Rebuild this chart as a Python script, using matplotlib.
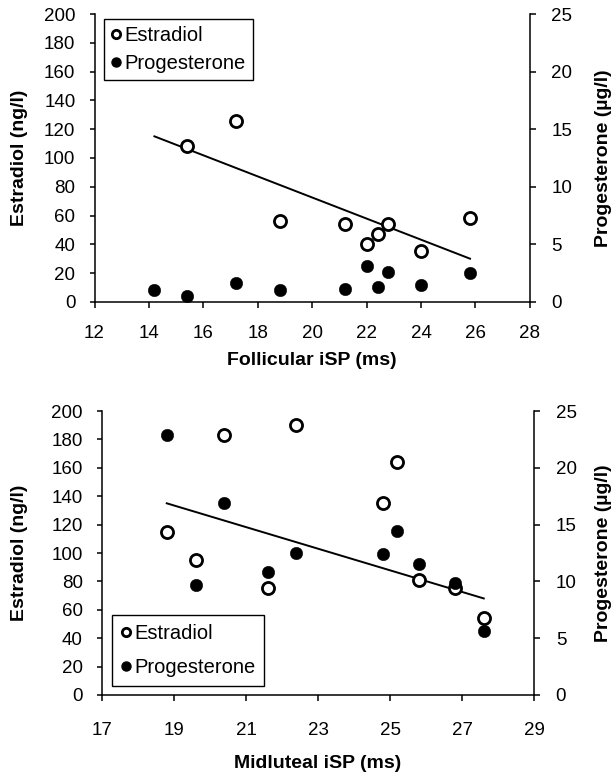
import matplotlib
matplotlib.use("Agg")
import matplotlib.pyplot as plt
from matplotlib.lines import Line2D

plt.rcParams['font.family'] = ['Liberation Sans', 'DejaVu Sans']

# follicular phase
fol_x_estr = [15.4, 17.2, 18.8, 21.2, 22.0, 22.4, 22.8, 24.0, 25.8]
fol_estr = [108, 126, 56, 54, 40, 47, 54, 35, 58]
fol_x_prog = [14.2, 15.4, 17.2, 18.8, 21.2, 22.0, 22.4, 22.8, 24.0, 25.8]
fol_prog = [1.05, 0.5, 1.6, 1.05, 1.1, 3.15, 1.25, 2.6, 1.5, 2.5]
fol_trend_x = [14.2, 25.8]
fol_trend_y = [115, 30]

# midluteal phase
mid_x = [18.8, 19.6, 20.4, 21.6, 22.4, 24.8, 25.2, 25.8, 26.8, 27.6]
mid_estr = [115, 95, 183, 75, 190, 135, 164, 81, 75, 54]
mid_prog = [22.9, 9.7, 16.9, 10.8, 12.5, 12.4, 14.4, 11.5, 9.9, 5.6]
mid_trend_x = [18.8, 27.6]
mid_trend_y = [135, 68]

fol_xticks = list(range(12, 29, 2))
mid_xticks = list(range(17, 30, 2))
estr_ticks = list(range(0, 201, 20))
prog_ticks = list(range(0, 26, 5))

TICK_FS = 13.5
LABEL_FS = 14
LEG_FS = 14.5


def panel(rect, xe, ye, xp, yp, tx, ty, xticks, xlabel, xpad, xlab_y, ylab_x, rlab_x,
          leg_loc, leg_anchor, leg_spacing, leg_pad):
    ax = fig.add_axes(rect)
    ax2 = ax.twinx()
    ax.plot(xe, ye, 'o', ms=8.7, mfc='white', mec='black', mew=2.0, zorder=3)
    ax.plot(tx, ty, '-', color='black', lw=1.4, zorder=2)
    ax2.plot(xp, yp, 'o', ms=9, mfc='black', mec='black', mew=0.3, zorder=3)

    ax.set_xlim(xticks[0], xticks[-1])
    ax.set_xticks(xticks)
    ax.set_ylim(0, 200)
    ax.set_yticks(estr_ticks)
    ax2.set_ylim(0, 25)
    ax2.set_yticks(prog_ticks)

    for a in (ax, ax2):
        a.spines['top'].set_visible(False)
        for s in ('left', 'right', 'bottom'):
            a.spines[s].set_linewidth(1.1)
    ax.spines['right'].set_visible(False)
    ax2.spines['left'].set_visible(False)
    ax2.spines['bottom'].set_visible(False)

    ax.tick_params(axis='x', length=4.5, width=1.1, pad=xpad, labelsize=TICK_FS)
    ax.tick_params(axis='y', length=3.8, width=1.1, pad=10, labelsize=TICK_FS)
    ax2.tick_params(axis='y', length=4.5, width=1.1, pad=11, labelsize=TICK_FS)

    ax.set_xlabel(xlabel, fontsize=LABEL_FS, fontweight='bold')
    ax.xaxis.set_label_coords(0.5, xlab_y)
    ax.set_ylabel('Estradiol (ng/l)', fontsize=LABEL_FS, fontweight='bold')
    ax.yaxis.set_label_coords(ylab_x, 0.5)
    ax2.set_ylabel('Progesterone (µg/l)', fontsize=LABEL_FS, fontweight='bold', rotation=90)
    ax2.yaxis.set_label_coords(rlab_x, 0.5)

    handles = [
        Line2D([], [], ls='none', marker='o', ms=6, mfc='white', mec='black', mew=2.0),
        Line2D([], [], ls='none', marker='o', ms=6.5, mfc='black', mec='black'),
    ]
    leg = ax2.legend(handles, ['Estradiol', 'Progesterone'], loc=leg_loc,
                     bbox_to_anchor=leg_anchor, fontsize=LEG_FS, frameon=True,
                     fancybox=False, edgecolor='black', framealpha=1,
                     handlelength=0.5, handletextpad=0.15, borderpad=leg_pad,
                     labelspacing=leg_spacing, borderaxespad=0)
    leg.get_frame().set_linewidth(1.0)
    return ax, ax2


fig = plt.figure(figsize=(6.14, 7.78), dpi=100)

panel([0.154, 0.612, 0.709, 0.370], fol_x_estr, fol_estr, fol_x_prog, fol_prog,
      fol_trend_x, fol_trend_y, fol_xticks, 'Follicular iSP (ms)', 12,
      -0.174, -0.153, 1.149, 'upper left', (0.022, 0.983), 0.45, 0.35)

panel([0.166, 0.1067, 0.704, 0.365], mid_x, mid_estr, mid_x, mid_prog,
      mid_trend_x, mid_trend_y, mid_xticks, 'Midluteal iSP (ms)', 15,
      -0.211, -0.171, 1.141, 'lower left', (0.023, 0.032), 0.75, 0.45)

fig.savefig('out.png', dpi=100)
